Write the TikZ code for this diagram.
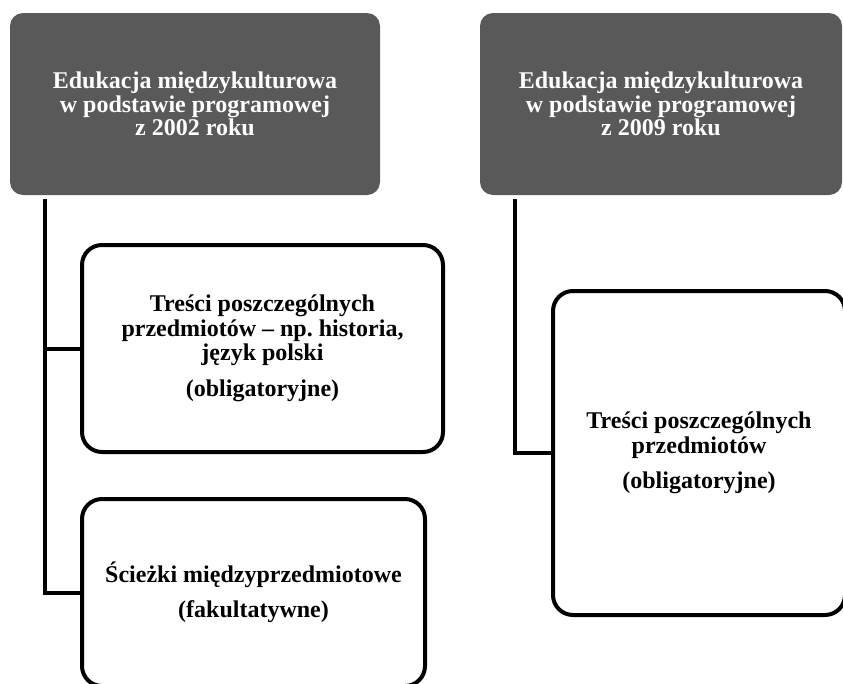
\documentclass[tikz,border=0pt]{standalone}
\usepackage{fontspec}
\setmainfont{Liberation Serif}
\usepackage{xcolor}
\usepackage{tikz}
\definecolor{headgray}{RGB}{89,89,89}
\frenchspacing

\begin{document}
\begin{tikzpicture}[x=1pt, y=-1pt,
    headbox/.style={rectangle, rounded corners=13pt, fill=headgray, text=white,
        minimum height=182pt, inner sep=0pt, align=center,
        font=\fontsize{24}{23.5}\selectfont\bfseries},
    subbox/.style={rectangle, rounded corners=20pt, draw=black, line width=4pt, fill=white,
        inner sep=0pt, align=center,
        font=\fontsize{24}{24.5}\selectfont\bfseries},
    branch/.style={line width=4pt}]
        \useasboundingbox (0,0) rectangle (843,683);

        % Header boxes
        \foreach \name/\x/\w/\year in {headA/195/370/2002, headB/661/362/2009} {
            \node[headbox, minimum width=\w pt] (\name) at (\x,104)
                {Edukacja międzykulturowa\\ w podstawie programowej\\ z \year{} roku};
        }

        % Content boxes
        \node[subbox, minimum width=361pt, minimum height=207pt] (trescA) at (262.5,348.5)
            {Treści poszczególnych\\ przedmiotów – np. historia,\\ język polski\\[11pt] (obligatoryjne)};
        \node[subbox, minimum width=343pt, minimum height=187pt] (sciezki) at (253.5,592.5)
            {Ścieżki międzyprzedmiotowe\\[11pt] (fakultatywne)};
        \node[subbox, minimum width=292pt, minimum height=324pt] (trescB) at (699,453)
            {Treści poszczególnych\\ przedmiotów\\[11pt] (obligatoryjne)};

        % Connectors
        \coordinate (trunkA) at ([xshift=35pt, yshift=-4pt]headA.south west);
        \coordinate (trunkB) at ([xshift=35pt, yshift=-4pt]headB.south west);
        \draw[branch] (trunkA) |- (trescA.west);
        \draw[branch] (trunkA) |- (sciezki.west);
        \draw[branch] (trunkB) |- (trescB.west);
    \end{tikzpicture}
\end{document}
